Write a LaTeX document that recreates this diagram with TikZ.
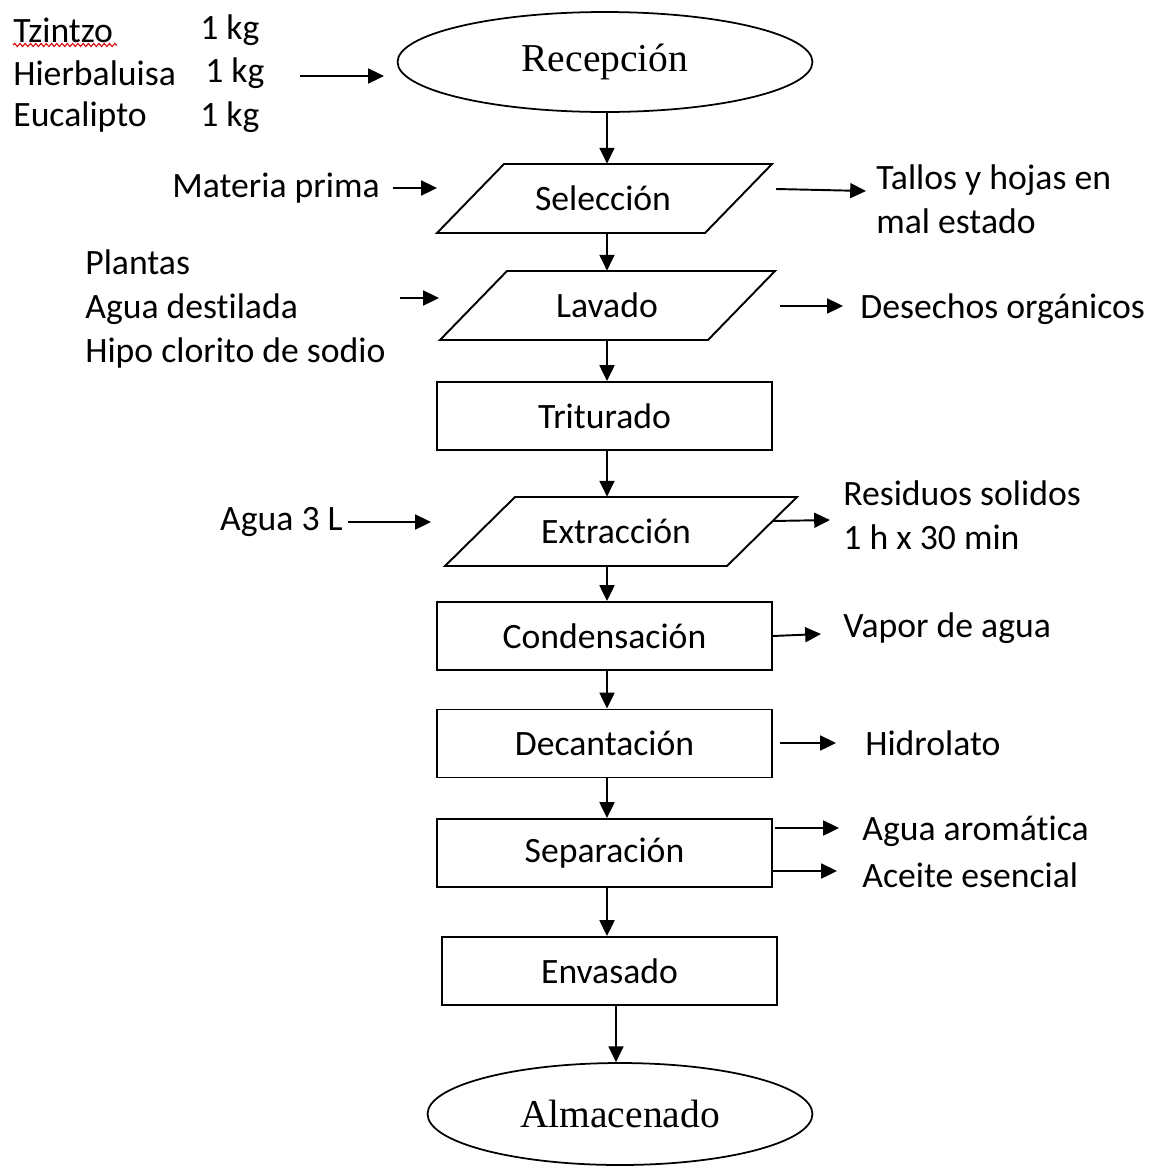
\documentclass[tikz,border=0pt]{standalone}
\usepackage{fontspec}
\setmainfont{Carlito}[Ligatures={NoCommon,NoRare,NoContextual}]
\newfontfamily\seriffam{Liberation Serif}
\usetikzlibrary{arrows.meta,shapes.geometric,calc,decorations.pathmorphing}

% parallelogram: name, cx, cy, half width, slant offset, text x, text
\newcommand\paranode[7]{%
  \node[ptext,minimum width=4cm] (#1) at (#6,#3) {#7};
  \draw[boxline] ($(#2,#3)+(-#4,34.5)$) -- ($(#2,#3)+(#4-#5,34.5)$) --
    ($(#2,#3)+(#4,-34.5)$) -- ($(#2,#3)+(-#4+#5,-34.5)$) -- cycle;
  \coordinate (#1-r) at ($(#2,#3)+(#4-#5/2,0)$);
  \coordinate (#1-l) at ($(#2,#3)+(-#4+#5/2,0)$);
}

\begin{document}
\begin{tikzpicture}[x=0.02cm,y=-0.02cm,
  every node/.style={font=\fontsize{20.3}{25}\selectfont},
  lbl/.style={inner sep=0pt, align=left},
  boxline/.style={line width=1.1pt},
  ptext/.style={inner sep=0pt, minimum height=1.38cm},
  proc/.style={draw, line width=1.1pt, minimum width=6.7cm, minimum height=1.36cm, inner sep=0pt},
  term/.style={ellipse, draw, line width=1pt, inner sep=0pt, font=\seriffam\fontsize{22.5}{27}\selectfont},
  arr/.style={line width=1.1pt, -{Triangle[length=9pt,width=8.5pt]}},
]
\useasboundingbox (0,0) rectangle (1161,1167);
\fill[white] (0,0) rectangle (1161,1167);

% terminals
\node[term, minimum width=8.3cm, minimum height=2cm] (rec) at (605,62) {Recepción};
\node[term, minimum width=7.7cm, minimum height=2.04cm] (alm) at (620,1114) {Almacenado};

% process steps
\paranode{sel}{604.5}{198.5}{167.5}{67}{603}{Selección}
\paranode{lav}{607.5}{305.5}{167.5}{67}{607}{Lavado}
\node[proc] (tri) at (604.5,416) {Triturado};
\paranode{ext}{621}{531.5}{176}{70}{616}{Extracción}
\node[proc] (con) at (604.5,636) {Condensación};
\node[proc] (dec) at (604.5,743.5) {Decantación};
\node[proc] (sep) at (604.5,853) {Separación};
\node[proc] (env) at (609.5,971) {Envasado};

% main flow
\draw[arr] ($(rec.south)+(2,0)$) -- ($(rec.south |- sel.north)+(2,0)$);
\draw[arr] ($(sel.south)+(4,0)$) -- ($(sel.south |- lav.north)+(4,0)$);
\draw[arr] (lav.south) -- (lav.south |- tri.north);
\draw[arr] ($(tri.south)+(2.5,0)$) -- ($(tri.south |- ext.north)+(2.5,0)$);
\draw[arr] ($(ext.south)+(-9,0)$) -- ($(ext.south |- con.north)+(-9,0)$);
\draw[arr] ($(con.south)+(2.5,0)$) -- ($(con.south |- dec.north)+(2.5,0)$);
\draw[arr] ($(dec.south)+(2.5,0)$) -- ($(dec.south |- sep.north)+(2.5,0)$);
\draw[arr] ($(sep.south)+(2.5,0)$) -- ($(sep.south |- env.north)+(2.5,0)$);
\draw[arr] ($(env.south)+(6.5,0)$) -- ($(env.south |- alm.north)+(6.5,0)$);

% inputs
\node[lbl, anchor=west] (tz) at (13,30) {Tzintzo};
\node[lbl, anchor=west] (hb) at (13,73) {Hierbaluisa};
\node[lbl, anchor=west] (eu) at (13,117) {Eucalipto};
\node[lbl, anchor=west] (k1) at (200,30) {1 kg};
\node[lbl, anchor=west] (k2) at (205,73) {1 kg};
\node[lbl, anchor=west] (k3) at (200,117) {1 kg};
\draw[red!85!black, line width=0.6pt, decorate, decoration={snake, amplitude=0.9pt, segment length=3pt}] (13,45) -- (117,45);
\coordinate (inrec) at (300,76);
\draw[arr] (inrec) -- (384,76);

\node[lbl, anchor=east] (mp) at (380,188) {Materia prima};
\coordinate (mpin) at (393,188);
\draw[arr] (mpin) -- (437,188);

\node[lbl, anchor=west] (pl) at (85,309) {Plantas\\Agua destilada\\Hipo clorito de sodio};
\coordinate (plin) at (400,298);
\draw[arr] (plin) -- (439,298);

\node[lbl, anchor=east] (ag) at (343,522) {Agua 3 L};
\draw[arr] (ag.east) ++(5,0) -- (431,522);

% outputs
\node[lbl, anchor=west] (ta) at (876,199) {Tallos y hojas en\\mal estado};
\coordinate (selout) at (776,189);
\draw[arr] (selout) -- (866,191);

\node[lbl, anchor=west] (de) at (860,309) {Desechos orgánicos};
\coordinate (lavout) at (780,306);
\draw[arr] (lavout) -- (843,306);

\node[lbl, anchor=west] (re) at (843,515) {Residuos solidos\\1 h x 30 min};
\coordinate (extout) at (773,521);
\draw[arr] (extout) -- (830,520);

\node[lbl, anchor=west] (va) at (843,628) {Vapor de agua};
\draw[arr] (con.east |- 0,636) -- (821,634);

\node[lbl, anchor=west] (hi) at (865,743) {Hidrolato};
\coordinate (decout) at (780,743);
\draw[arr] (decout) -- (836,743);

\node[lbl, anchor=west] (aa) at (862,831) {Agua aromática};
\node[lbl, anchor=west] (ae) at (862,875) {Aceite esencial};
\draw[arr] (775,828) -- (839,828);
\draw[arr] (sep.east |- 0,871) -- (837,871);
\end{tikzpicture}
\end{document}
